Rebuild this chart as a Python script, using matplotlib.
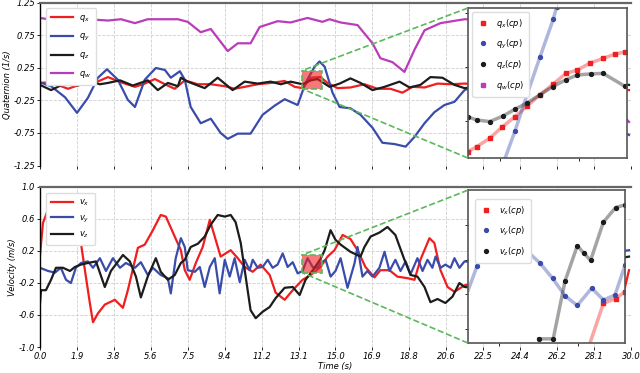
import numpy as np
import matplotlib
matplotlib.use('Agg')
import matplotlib.pyplot as plt
from matplotlib.patches import Rectangle
from mpl_toolkits.axes_grid1.inset_locator import mark_inset

# ---- quaternion (top) ----
qx_t = [0.0, 0.56, 1.42, 2.08, 2.84, 3.45, 4.11, 4.82, 5.32, 5.83, 6.34, 6.84, 7.00, 7.35, 8.01, 8.67,
        9.38, 9.88, 10.39, 11.05, 11.71, 12.42, 12.93, 13.33, 13.74, 14.24, 14.60, 15.10, 15.76, 16.47,
        17.13, 17.79, 18.40, 18.91, 19.52, 20.18, 20.84, 21.55, 23.32, 26.36, 29.90]
qx = [0.02, 0.03, -0.07, 0.0, 0.03, 0.11, 0.03, -0.04, 0.01, 0.08, 0.0, -0.07, -0.03, 0.06, 0.0, 0.0,
      -0.03, -0.07, -0.04, 0.0, 0.02, 0.05, -0.04, -0.06, 0.10, 0.11, 0.02, -0.06, -0.05, 0.0,
      -0.07, -0.07, -0.13, -0.04, -0.05, 0.01, 0.0, 0.01, -0.02, 0.05, -0.09]

qy_t = [0.0, 0.56, 1.27, 1.88, 2.43, 2.94, 3.40, 3.95, 4.46, 4.82, 5.32, 5.88, 6.34, 6.64, 7.10, 7.35,
        7.65, 8.16, 8.67, 9.17, 9.53, 10.04, 10.69, 11.30, 11.91, 12.42, 13.08, 13.48, 13.94, 14.19,
        14.45, 14.85, 15.21, 15.76, 16.27, 16.88, 17.38, 17.99, 18.56, 19.01, 19.52, 20.02, 20.53,
        21.04, 21.55, 24.0, 27.0, 29.90]
qy = [0.03, -0.03, -0.20, -0.44, -0.21, 0.10, 0.23, 0.07, -0.24, -0.35, 0.07, 0.25, 0.22, 0.10, 0.20, 0.07,
      -0.35, -0.60, -0.53, -0.75, -0.84, -0.76, -0.76, -0.47, -0.33, -0.23, -0.32, 0.02, 0.27, 0.35,
      0.27, -0.13, -0.35, -0.37, -0.47, -0.67, -0.90, -0.92, -0.96, -0.81, -0.60, -0.43, -0.32,
      -0.27, -0.09, 0.20, -0.30, -0.78]

qz_t = [0.0, 0.56, 1.32, 1.93, 2.43, 3.04, 3.45, 4.06, 4.71, 5.47, 5.98, 6.49, 7.00, 7.15, 7.50, 8.36,
        9.02, 9.78, 10.39, 11.05, 11.71, 12.22, 12.72, 13.33, 13.74, 14.09, 14.70, 15.21, 15.76, 16.27,
        16.88, 17.49, 18.25, 18.76, 19.31, 19.82, 20.43, 21.04, 21.55, 24.0, 27.0, 29.90]
qz = [-0.01, -0.09, 0.02, -0.02, 0.05, 0.0, 0.02, 0.06, -0.02, 0.06, -0.09, 0.02, -0.03, 0.10, 0.04, -0.06,
      0.10, -0.09, 0.04, 0.01, 0.04, 0.0, 0.04, 0.0, 0.06, 0.08, -0.04, 0.01, 0.09, 0.02,
      -0.09, -0.04, 0.04, -0.05, -0.01, 0.11, 0.10, -0.01, -0.06, 0.03, 0.10, -0.01]

qw_t = [0.0, 1.82, 2.43, 3.45, 4.11, 4.82, 5.47, 7.00, 7.50, 8.16, 8.67, 9.53, 10.04, 10.69, 11.15, 12.06,
        12.72, 13.58, 14.34, 14.70, 15.26, 16.12, 16.88, 17.28, 17.89, 18.50, 19.01, 19.52, 20.33,
        21.55, 24.0, 27.0, 29.90]
qw = [1.02, 0.93, 1.0, 0.98, 1.0, 0.94, 1.0, 1.0, 0.96, 0.80, 0.85, 0.51, 0.63, 0.63, 0.88, 0.97,
      0.95, 1.02, 0.96, 1.0, 0.95, 0.91, 0.63, 0.40, 0.34, 0.19, 0.53, 0.83, 0.94,
      1.0, 0.98, 0.40, -0.58]

# zoomed control points (top inset)
qx_cp_t = [13.30, 13.355, 13.438, 13.512, 13.596, 13.673, 13.753, 13.837, 13.916, 13.988, 14.067, 14.151, 14.225, 14.287]
qx_cp = [-0.058, -0.049, -0.033, -0.013, 0.007, 0.027, 0.048, 0.068, 0.088, 0.094, 0.107, 0.116, 0.124, 0.128]
qy_cp_t = [13.522, 13.596, 13.673, 13.753, 13.837, 13.858]
qy_cp = [-0.08, -0.02, 0.049, 0.118, 0.189, 0.212]
qz_cp_t = [13.30, 13.355, 13.438, 13.518, 13.596, 13.673, 13.753, 13.833, 13.916, 13.988, 14.072, 14.151, 14.287]
qz_cp = [0.007, 0.001, -0.002, 0.008, 0.021, 0.033, 0.048, 0.063, 0.076, 0.085, 0.087, 0.088, 0.064]

# ---- velocity (bottom) ----
vx_t = [0.0, 0.15, 0.35, 0.76, 1.12, 1.52, 1.77, 2.03, 2.28, 2.53, 2.69, 2.94, 3.29, 3.80, 4.21, 4.46,
        4.97, 5.32, 5.73, 6.13, 6.39, 6.84, 7.15, 7.35, 7.60, 7.91, 8.26, 8.62, 8.87, 9.17, 9.68, 10.04,
        10.39, 10.80, 11.20, 11.66, 11.96, 12.42, 12.83, 13.33, 13.74, 14.24, 14.60, 14.95, 15.36,
        15.76, 16.12, 16.52, 16.98, 17.28, 17.74, 18.14, 18.66, 19.01, 19.31, 19.77, 20.02, 20.33,
        20.69, 21.04, 21.55, 24.0, 27.0, 29.66, 29.90]
vx = [0.15, 0.55, 0.68, 0.66, 0.69, 0.66, 0.59, 0.38, -0.04, -0.45, -0.69, -0.58, -0.47, -0.41, -0.51, -0.29,
      0.24, 0.28, 0.46, 0.65, 0.63, 0.38, 0.21, -0.04, -0.16, 0.05, 0.25, 0.59, 0.38, 0.13, 0.21, 0.11,
      0.0, -0.06, 0.03, -0.10, -0.32, -0.41, -0.29, -0.16, -0.10, 0.0, 0.13, 0.21, 0.40,
      0.35, 0.21, 0.0, -0.13, -0.04, -0.04, -0.12, -0.14, -0.16, 0.09, 0.36, 0.30, -0.04,
      -0.25, -0.31, -0.23, -0.10, -0.20, -0.29, -0.04]

vy_t = [0.0, 0.41, 0.76, 1.06, 1.32, 1.57, 1.82, 2.08, 2.43, 2.69, 3.04, 3.35, 3.70, 4.06, 4.36, 4.82,
        5.12, 5.47, 5.73, 6.13, 6.49, 6.64, 6.89, 7.15, 7.35, 7.50, 7.86, 8.11, 8.36, 8.62, 8.87, 9.12,
        9.38, 9.63, 9.88, 10.14, 10.39, 10.64, 10.80, 11.05, 11.30, 11.56, 11.81, 12.06, 12.32, 12.57,
        12.83, 13.08, 13.33, 13.58, 13.84, 14.09, 14.24, 14.50, 14.75, 15.00, 15.26, 15.61, 15.97,
        16.12, 16.37, 16.62, 16.88, 17.23, 17.49, 17.74, 18.04, 18.30, 18.56, 18.81, 19.16, 19.42,
        19.67, 19.92, 20.08, 20.33, 20.58, 20.84, 21.04, 21.29, 21.55, 24.0, 27.0, 29.90]
vy = [-0.01, -0.05, -0.07, -0.01, -0.16, -0.20, -0.01, 0.05, 0.07, -0.01, 0.11, -0.05, 0.11, -0.01, 0.05, -0.01,
      0.06, -0.10, -0.01, -0.10, -0.14, -0.33, 0.11, 0.36, 0.25, -0.04, -0.06, 0.0, -0.25, 0.0, 0.11, -0.33,
      0.09, -0.12, 0.11, -0.19, 0.09, -0.04, 0.09, -0.01, 0.0, 0.09, -0.01, 0.03, 0.17, 0.0,
      0.06, -0.08, -0.05, 0.11, 0.0, -0.01, 0.05, 0.09, -0.12, -0.05, 0.11, -0.26, 0.05,
      0.25, -0.12, -0.05, -0.12, -0.01, 0.19, -0.05, 0.09, -0.05, 0.07, -0.09, 0.11, -0.05,
      0.09, -0.01, 0.13, -0.01, 0.03, -0.01, 0.11, -0.01, 0.07, 0.0, 0.10, 0.21]

vz_t = [0.0, 0.05, 0.30, 0.56, 0.81, 1.17, 1.52, 1.77, 2.08, 2.43, 2.84, 3.29, 3.60, 4.21, 4.56, 4.87,
        5.12, 5.47, 5.88, 6.13, 6.49, 6.84, 7.15, 7.35, 7.65, 8.01, 8.36, 8.67, 9.02, 9.38, 9.68, 9.93,
        10.19, 10.44, 10.69, 10.95, 11.30, 11.66, 11.96, 12.42, 12.83, 13.18, 13.48, 13.94, 14.24,
        14.45, 14.75, 15.00, 15.26, 15.76, 16.27, 16.47, 16.78, 17.23, 17.64, 18.04, 18.50, 18.81,
        19.16, 19.52, 19.82, 20.18, 20.58, 20.94, 21.29, 21.55, 24.0, 27.0, 29.90]
vz = [-0.45, -0.29, -0.29, -0.16, -0.01, -0.01, -0.05, 0.0, 0.03, 0.05, 0.07, -0.25, -0.05, 0.15, 0.07, -0.12,
      -0.38, -0.12, 0.11, -0.06, -0.16, -0.10, 0.05, 0.09, 0.25, 0.29, 0.38, 0.53, 0.65, 0.63, 0.65, 0.56,
      0.30, -0.12, -0.54, -0.64, -0.56, -0.50, -0.39, -0.26, -0.25, -0.35, -0.16, -0.01, 0.10,
      0.21, 0.46, 0.34, 0.28, 0.19, 0.13, 0.25, 0.38, 0.43, 0.50, 0.40, 0.09, -0.10,
      -0.12, -0.25, -0.44, -0.40, -0.45, -0.37, -0.20, -0.25, -0.30, 0.0, 0.13]

# zoomed control points (bottom inset)
vx_cp_t = [14.077, 14.162, 14.24, 14.30]
vx_cp = [-0.07, -0.013, -0.006, 0.004]
vy_cp_t = [13.302, 13.359, 13.521, 13.678, 13.759, 13.839, 13.918, 13.996, 14.088, 14.162, 14.236, 14.30]
vy_cp = [0.006, 0.041, 0.125, 0.062, 0.045, 0.023, -0.002, -0.016, 0.009, -0.008, -0.001, 0.042]
vz_cp_t = [13.75, 13.843, 13.918, 13.996, 14.039, 14.081, 14.162, 14.24, 14.30]
vz_cp = [-0.064, -0.064, 0.019, 0.07, 0.059, 0.049, 0.104, 0.125, 0.129]

x_ticks = np.linspace(0, 30, 17)
q_ticks = [-1.25, -0.75, -0.25, 0.25, 0.75, 1.25]
v_ticks = [-1.0, -0.6, -0.2, 0.2, 0.6, 1.0]

RED = '#f01e1e'
BLUE = '#3a4cab'
BLACK = '#1c1c1c'
MAG = '#bb3cbb'
GREEN = '#5cb85c'

plt.rcParams['font.family'] = 'DejaVu Sans'
fig = plt.figure(figsize=(6.4, 3.73), dpi=100)
ax1 = fig.add_axes([0.0625, 0.5563, 0.9234, 0.4357])
ax2 = fig.add_axes([0.0625, 0.0697, 0.9234, 0.4290])


def style_main(ax, yticks, fmt):
    ax.set_xlim(0, 30)
    ax.set_xticks(x_ticks)
    ax.set_yticks(yticks)
    ax.set_ylim(yticks[0], yticks[-1])
    ax.yaxis.set_major_formatter(plt.FormatStrFormatter(fmt))
    ax.xaxis.set_major_formatter(plt.FormatStrFormatter('%.1f'))
    ax.grid(True, ls='--', color='#cfcfcf', lw=0.6)
    ax.spines['top'].set_color('#666666')
    ax.spines['top'].set_linewidth(1.6)
    ax.spines['right'].set_visible(False)
    ax.spines['bottom'].set_visible(False)
    ax.spines['left'].set_linewidth(1.0)
    ax.tick_params(labelsize=6, length=2, width=0.6, pad=1.5)
    for lab in ax.get_xticklabels() + ax.get_yticklabels():
        lab.set_style('italic')


style_main(ax1, q_ticks, '%.2f')
style_main(ax2, v_ticks, '%.1f')
ax1.tick_params(labelbottom=False)

lw = 1.6
ax1.plot(qx_t, qx, color=RED, lw=lw, label='$q_x$')
ax1.plot(qy_t, qy, color=BLUE, lw=lw, label='$q_y$')
ax1.plot(qz_t, qz, color=BLACK, lw=lw, label='$q_z$')
ax1.plot(qw_t, qw, color=MAG, lw=lw, label='$q_w$')
ax1.set_ylabel('Quaternion (1/s)', fontsize=6, style='italic', labelpad=1)
ax1.legend(loc='upper left', bbox_to_anchor=(0.003, 0.995), fontsize=6, handlelength=2.6,
           labelspacing=0.9, borderpad=0.6, framealpha=1, edgecolor='#dddddd')

ax2.plot(vx_t, vx, color=RED, lw=lw, label='$v_x$')
ax2.plot(vy_t, vy, color=BLUE, lw=lw, label='$v_y$')
ax2.plot(vz_t, vz, color=BLACK, lw=lw, label='$v_z$')
ax2.set_ylabel('Velocity (m/s)', fontsize=6, style='italic', labelpad=1)
ax2.set_xlabel('Time (s)', fontsize=6, style='italic', labelpad=1)
ax2.legend(loc='upper left', bbox_to_anchor=(0.003, 0.99), fontsize=6, handlelength=2.6,
           labelspacing=0.6, borderpad=0.6, framealpha=1, edgecolor='#dddddd')


def style_inset(axins, xlim, ylim):
    axins.set_xlim(*xlim)
    axins.set_ylim(*ylim)
    axins.tick_params(labelbottom=False, labelleft=False, length=2, width=0.6)
    for s in axins.spines.values():
        s.set_color('#555555')
        s.set_linewidth(1.2)


ins1 = ax1.inset_axes([0.724, 0.046, 0.269, 0.923])
style_inset(ins1, (13.3, 14.3), (-0.07, 0.21))
ins1.plot(qx_cp_t, qx_cp, color=RED, lw=2.5, alpha=0.4)
ins1.plot(qx_cp_t, qx_cp, 's', color=RED, ms=2.5, label='$q_x(cp)$')
ins1.plot(qy_cp_t, qy_cp, color=BLUE, lw=2.5, alpha=0.4)
ins1.plot(qy_cp_t, qy_cp, 'o', color=BLUE, ms=2.8, label='$q_y(cp)$')
ins1.plot(qz_cp_t, qz_cp, color=BLACK, lw=2.5, alpha=0.4)
ins1.plot(qz_cp_t, qz_cp, 'o', color=BLACK, ms=2.8, label='$q_z(cp)$')
ins1.plot([], [], 's', color=MAG, ms=2.5, label='$q_w(cp)$')
ins1.legend(loc='upper left', fontsize=6, labelspacing=0.9, handlelength=1.5, borderpad=0.6,
            framealpha=1, edgecolor='#dddddd')

ins2 = ax2.inset_axes([0.724, 0.025, 0.266, 0.955])
style_inset(ins2, (13.3, 14.3), (-0.07, 0.15))
ins2.plot(vx_cp_t, vx_cp, color=RED, lw=2.5, alpha=0.4)
ins2.plot(vx_cp_t[1:], vx_cp[1:], 's', color=RED, ms=2.5, label='$v_x(cp)$')
ins2.plot(vy_cp_t, vy_cp, color=BLUE, lw=2.5, alpha=0.4)
ins2.plot(vy_cp_t[1:], vy_cp[1:], 'o', color=BLUE, ms=2.8, label='$v_y(cp)$')
ins2.plot(vz_cp_t, vz_cp, color=BLACK, lw=2.5, alpha=0.4)
ins2.plot(vz_cp_t, vz_cp, 'o', color=BLACK, ms=2.8, label='$v_z(cp)$')
ins2.legend(loc='upper left', bbox_to_anchor=(0.02, 0.97), fontsize=6, labelspacing=0.9,
            handlelength=1.5, borderpad=0.6, framealpha=1, edgecolor='#dddddd')

for ax, ins in [(ax1, ins1), (ax2, ins2)]:
    x0, x1 = ins.get_xlim()
    y0, y1 = ins.get_ylim()
    ax.add_patch(Rectangle((x0, y0), x1 - x0, y1 - y0, facecolor=RED, alpha=0.6, lw=0, zorder=3))
    mark_inset(ax, ins, loc1=2, loc2=3, fc='none', ec=GREEN, ls='--', lw=1.2, zorder=4)

fig.savefig('out.png', dpi=100)
